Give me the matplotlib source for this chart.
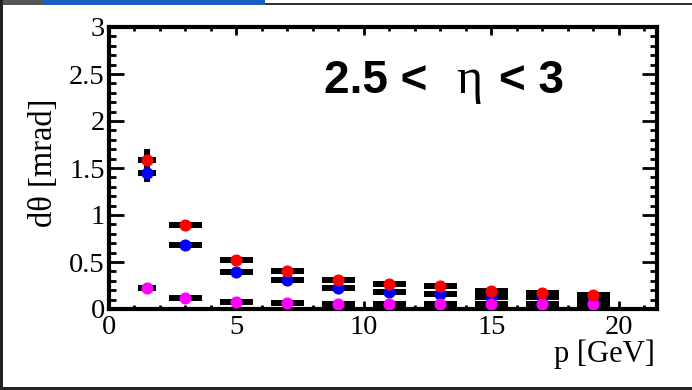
import matplotlib
matplotlib.use("Agg")
import matplotlib.pyplot as plt
from matplotlib.ticker import MultipleLocator, FuncFormatter
from matplotlib.patches import Rectangle

# ---- data ----
p_center = [1.5, 3, 5, 7, 9, 11, 13, 15, 17, 19]
p_halfwidth = [0.35, 0.65, 0.65, 0.65, 0.65, 0.65, 0.65, 0.65, 0.65, 0.65]

red_vals = [1.59, 0.89, 0.52, 0.40, 0.31, 0.265, 0.24, 0.19, 0.17, 0.145]
red_err = [0.11, 0.02, 0.015, 0.012, 0.01, 0.01, 0.01, 0.008, 0.008, 0.008]
blue_vals = [1.45, 0.68, 0.39, 0.31, 0.225, 0.185, 0.155, 0.13, 0.13, 0.11]
blue_err = [0.10, 0.02, 0.012, 0.01, 0.008, 0.008, 0.008, 0.007, 0.007, 0.007]
mag_vals = [0.22, 0.12, 0.078, 0.064, 0.057, 0.05, 0.05, 0.05, 0.048, 0.048]
mag_err = [0.01, 0.005, 0.004, 0.003, 0.003, 0.003, 0.003, 0.003, 0.003, 0.003]

title_left = "2.5 <"
title_mid = "\u03b7"
title_right = "< 3"
xlabel = "p [GeV]"
ylabel = "d\u03b8 [mrad]"

W, H = 692, 390
fig = plt.figure(figsize=(W / 100, H / 100), dpi=100)
fig.patch.set_facecolor("white")

# screenshot frame decorations
def frect(x0, y0, x1, y1, color):
    fig.patches.append(Rectangle((x0 / W, 1 - y1 / H), (x1 - x0) / W, (y1 - y0) / H,
                                 transform=fig.transFigure, facecolor=color,
                                 edgecolor="none", zorder=-1))

frect(0, 0, 44, 5, "#555555")
frect(44, 0, 265, 5, "#1a5fc0")
frect(265, 3, 692, 5, "#333333")
frect(0, 0, 3, 390, "#222222")
frect(0, 387, 692, 390, "#222222")

ax = fig.add_axes([109 / W, 1 - 309 / H, (657 - 109) / W, (309 - 27) / H])
ax.set_xlim(0, 21.5)
ax.set_ylim(0, 3)

for vals, errs in [(blue_vals, blue_err), (red_vals, red_err), (mag_vals, mag_err)]:
    ax.errorbar(p_center, vals, xerr=p_halfwidth, yerr=errs, fmt="none",
                ecolor="black", elinewidth=4.3, capsize=0, zorder=2)

ax.plot(p_center, blue_vals, "o", color="#0000ff", ms=7.7, mec="#0000ff", zorder=3)
ax.plot(p_center, mag_vals, "o", color="#ff00ff", ms=7.7, mec="#ff00ff", zorder=3)
ax.plot(p_center, red_vals, "o", color="#ff0000", ms=7.7, mec="#ff0000", zorder=4)

for s in ax.spines.values():
    s.set_linewidth(3)

ax.xaxis.set_major_locator(MultipleLocator(5))
ax.xaxis.set_minor_locator(MultipleLocator(1))
ax.yaxis.set_major_locator(MultipleLocator(0.5))
ax.yaxis.set_minor_locator(MultipleLocator(0.1))
fmt = FuncFormatter(lambda v, pos: "%g" % v)
ax.xaxis.set_major_formatter(fmt)
ax.yaxis.set_major_formatter(fmt)

ax.tick_params(axis="both", which="both", direction="in", top=True, right=True, width=2)
ax.tick_params(axis="x", which="major", length=6, pad=4)
ax.tick_params(axis="x", which="minor", length=3)
ax.tick_params(axis="y", which="major", length=11, pad=3)
ax.tick_params(axis="y", which="minor", length=5)
for lab in ax.get_xticklabels() + ax.get_yticklabels():
    lab.set_fontfamily("Liberation Serif")
    lab.set_fontsize(20.5)

fig.text(44 / W, 1 - 163 / H, ylabel, rotation=90, ha="center", va="center",
         fontsize=23.5, family="Liberation Serif")
fig.text(655 / W, 1 - 354 / H, xlabel, ha="right", va="center",
         fontsize=22, family="Liberation Serif")

fig.text(324 / W, 1 - 93 / H, title_left, ha="left", va="baseline",
         fontsize=33, fontweight="bold", family="Liberation Sans")
fig.text(456 / W, 1 - 93 / H, title_mid, ha="left", va="baseline",
         fontsize=36, family="Liberation Serif")
fig.text(499 / W, 1 - 93 / H, title_right, ha="left", va="baseline",
         fontsize=33, fontweight="bold", family="Liberation Sans")

fig.savefig("out.png", dpi=100)
